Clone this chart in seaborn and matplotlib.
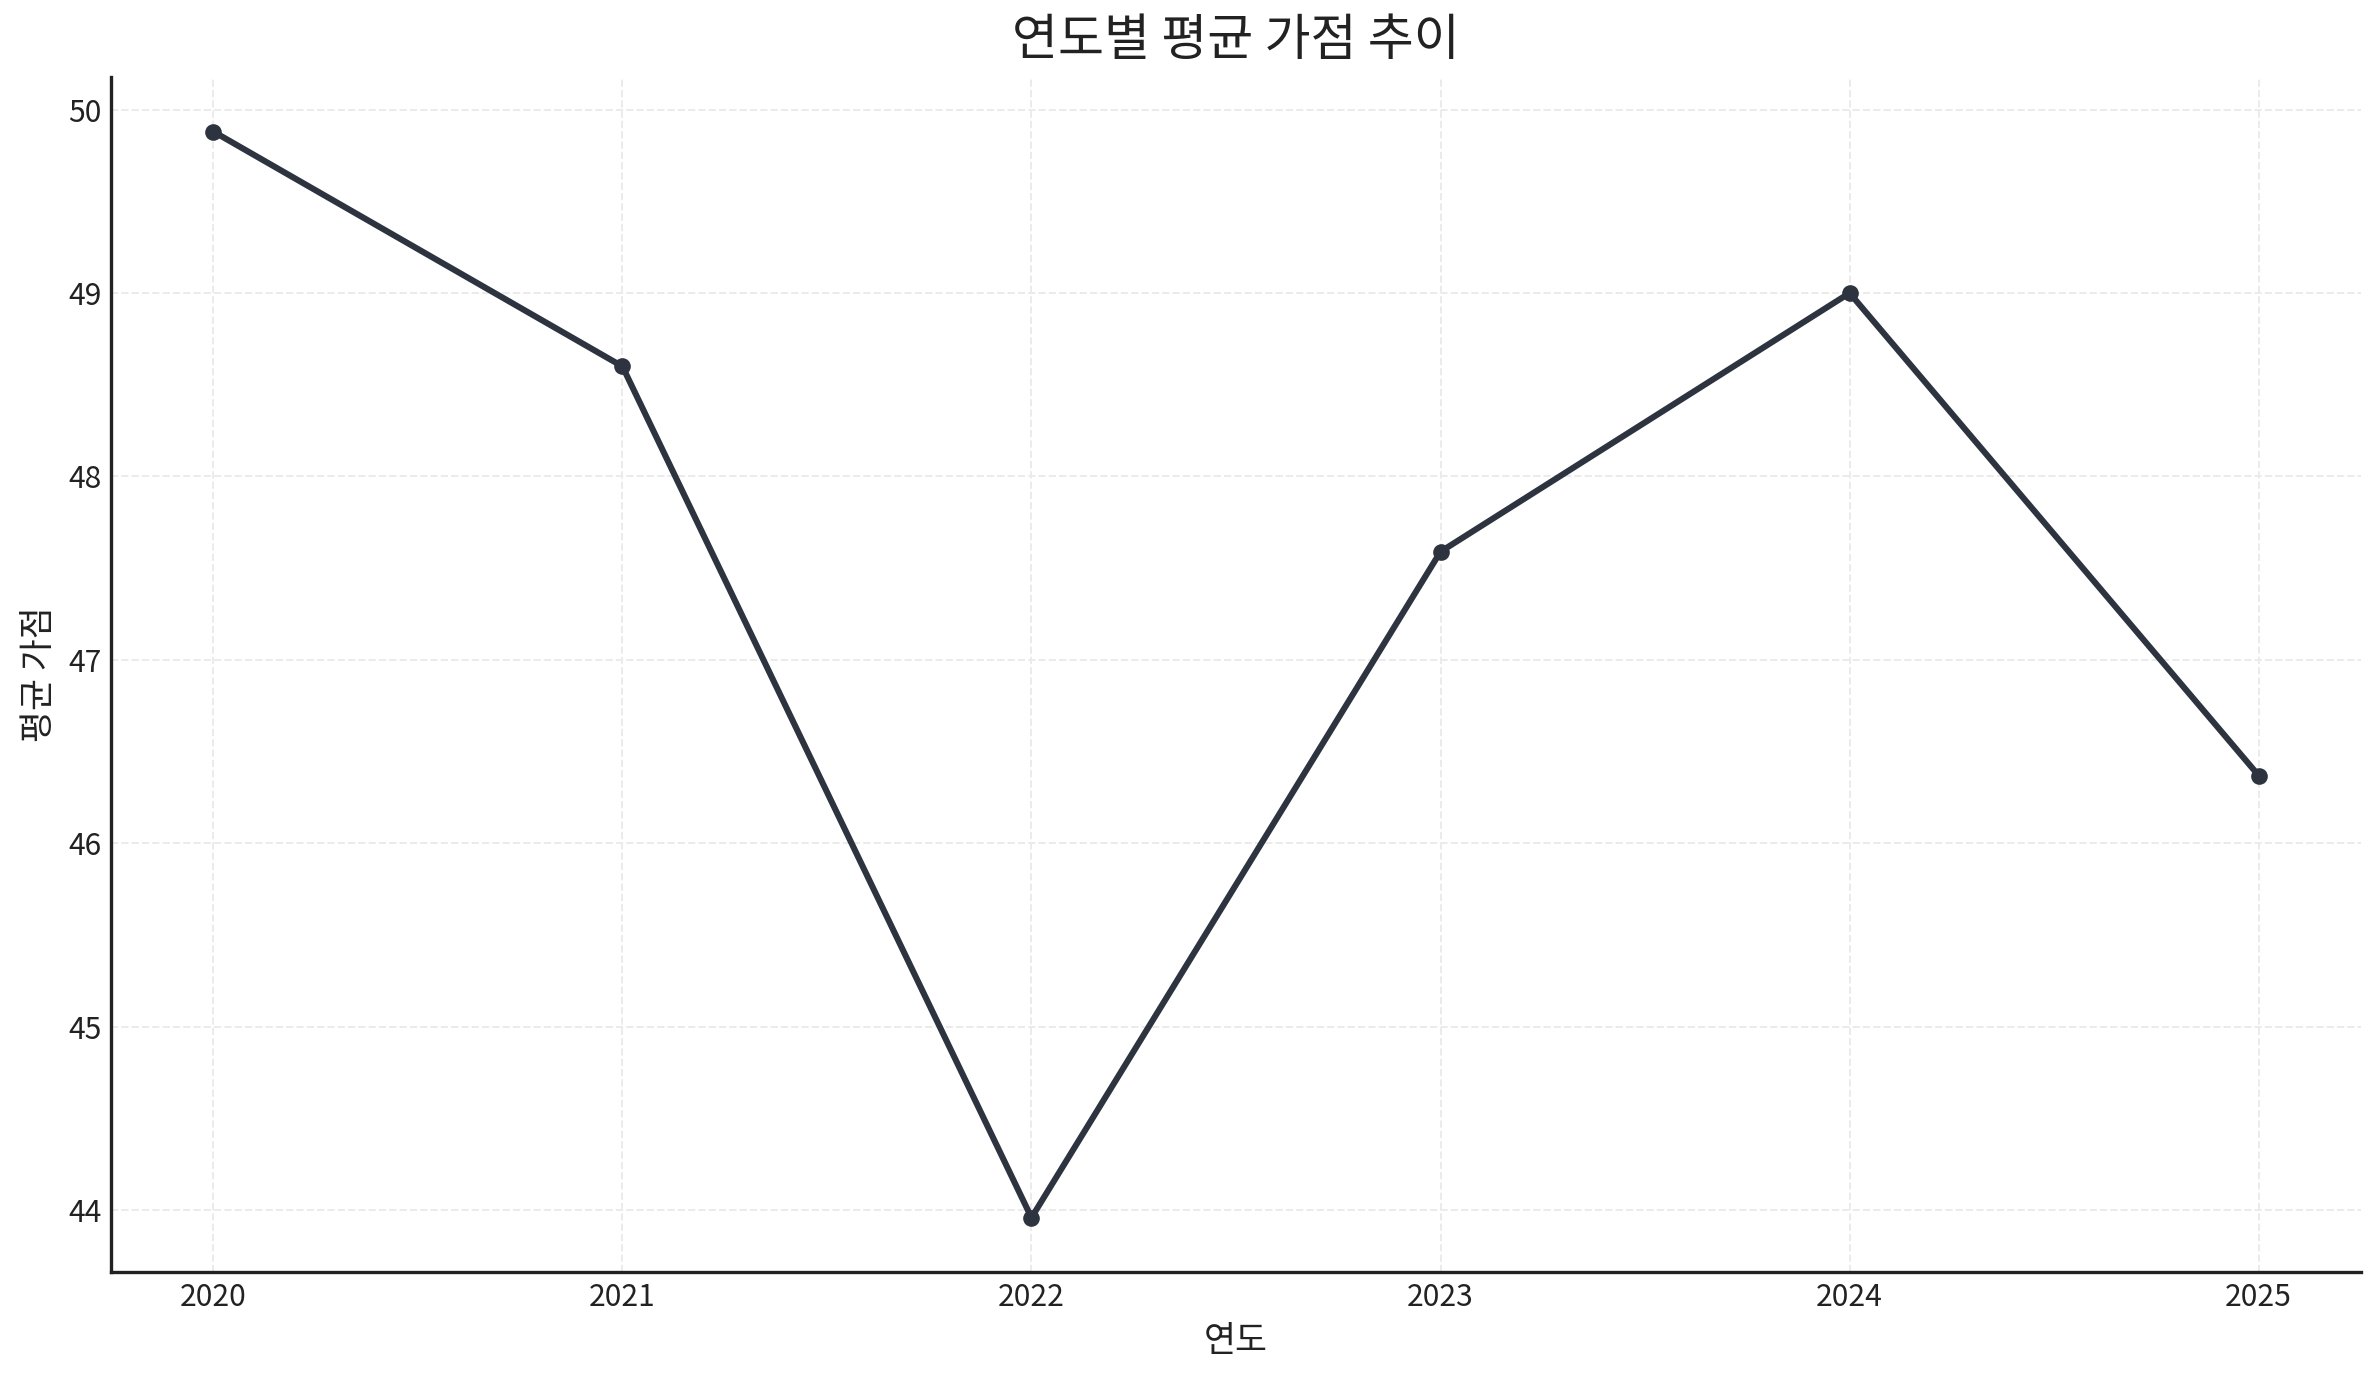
import matplotlib
matplotlib.use("Agg")
import matplotlib.pyplot as plt
import seaborn as sns
import pandas as pd

years = [2020, 2021, 2022, 2023, 2024, 2025]
avg_points = [49.88, 48.60, 43.96, 47.59, 49.00, 46.37]

sns.set_style("white")
plt.rcParams["font.family"] = ["Noto Sans CJK KR", "DejaVu Sans"]

df = pd.DataFrame({"연도": years, "평균 가점": avg_points})

fig = plt.figure(figsize=(11.895, 6.9), dpi=200)
ax = fig.add_axes([0.0467, 0.0783, 0.9457, 0.8657])

sns.lineplot(data=df, x="연도", y="평균 가점", ax=ax, color="#2d333f",
             linewidth=2.2, marker="o", markersize=6, markeredgewidth=0)

ax.set_title("연도별 평균 가점 추이", fontsize=18, color="#222222", pad=8)
ax.set_xlabel("연도", fontsize=12.5, color="#222222")
ax.set_ylabel("평균 가점", fontsize=12.5, color="#222222")
ax.set_xticks(years)
ax.tick_params(direction="in", length=4, width=1.2, labelsize=10.8, colors="#222222")
ax.grid(True, linestyle="--", color="#ebebeb", linewidth=0.7)
for side in ["top", "right"]:
    ax.spines[side].set_visible(False)
for side in ["left", "bottom"]:
    ax.spines[side].set_color("#222222")
    ax.spines[side].set_linewidth(1.2)

fig.savefig("out.png", dpi=200)
